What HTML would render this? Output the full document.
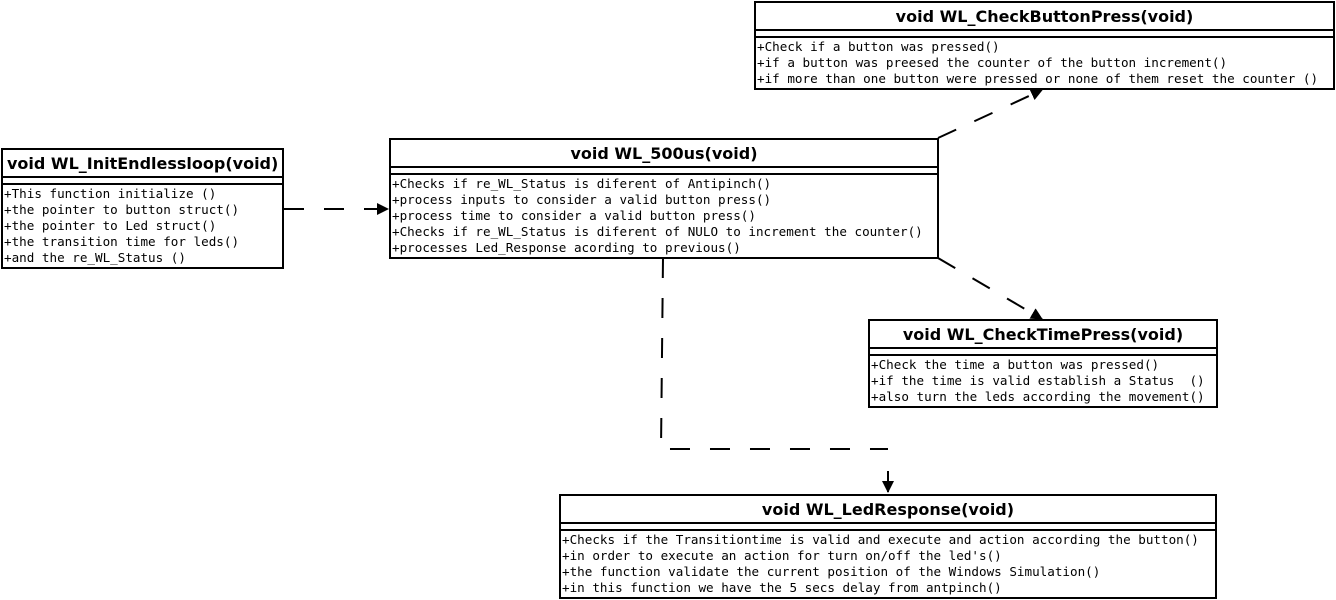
<!DOCTYPE html>
<html><head><meta charset="utf-8"><style>
body{margin:0;width:1336px;height:600px;background:#fff;position:relative;overflow:hidden}
.b{position:absolute;border:2px solid #000;box-sizing:border-box;background:#fff}
.t{height:26px;font:bold 16px "DejaVu Sans","Liberation Sans",sans-serif;line-height:27px;text-align:center;border-bottom:2px solid #000;white-space:nowrap}
.g{height:5px;border-bottom:2px solid #000}
.m{font:12.6px "DejaVu Sans Mono","Liberation Mono",monospace;line-height:16px;padding:1px;white-space:pre}
svg{position:absolute;left:0;top:0}
</style></head><body>
<svg width="1336" height="600">
<defs><marker id="a" markerWidth="12" markerHeight="12" refX="11" refY="6" orient="auto" markerUnits="userSpaceOnUse"><path d="M0,0 L12,6 L0,12 z" fill="#000"/></marker></defs>
<g stroke="#000" stroke-width="2" fill="none" stroke-dasharray="20,20">
<path d="M284,209 L388,209" marker-end="url(#a)"/>
<path d="M938,138 L1042,90" marker-end="url(#a)"/>
<path d="M938,258 L1042,319" marker-end="url(#a)"/>
<path d="M663,258 L661,449 L888,449"/>
</g>
<path d="M888,471 L888,492" stroke="#000" stroke-width="2" marker-end="url(#a)"/>
</svg>
<div class="b" style="left:1px;top:148px;width:283px"><div class="t" style="text-align:left;padding-left:4px">void WL_InitEndlessloop(void)</div><div class="g"></div><div class="m">+This function initialize ()
+the pointer to button struct()
+the pointer to Led struct()
+the transition time for leds()
+and the re_WL_Status ()</div></div>
<div class="b" style="left:389px;top:138px;width:550px"><div class="t">void WL_500us(void)</div><div class="g"></div><div class="m">+Checks if re_WL_Status is diferent of Antipinch()
+process inputs to consider a valid button press()
+process time to consider a valid button press()
+Checks if re_WL_Status is diferent of NULO to increment the counter()
+processes Led_Response acording to previous()</div></div>
<div class="b" style="left:754px;top:1px;width:581px"><div class="t">void WL_CheckButtonPress(void)</div><div class="g"></div><div class="m">+Check if a button was pressed()
+if a button was preesed the counter of the button increment()
+if more than one button were pressed or none of them reset the counter ()</div></div>
<div class="b" style="left:868px;top:319px;width:350px"><div class="t">void WL_CheckTimePress(void)</div><div class="g"></div><div class="m">+Check the time a button was pressed()
+if the time is valid establish a Status  ()
+also turn the leds according the movement()</div></div>
<div class="b" style="left:559px;top:494px;width:658px"><div class="t">void WL_LedResponse(void)</div><div class="g"></div><div class="m">+Checks if the Transitiontime is valid and execute and action according the button()
+in order to execute an action for turn on/off the led's()
+the function validate the current position of the Windows Simulation()
+in this function we have the 5 secs delay from antpinch()</div></div>
</body></html>
